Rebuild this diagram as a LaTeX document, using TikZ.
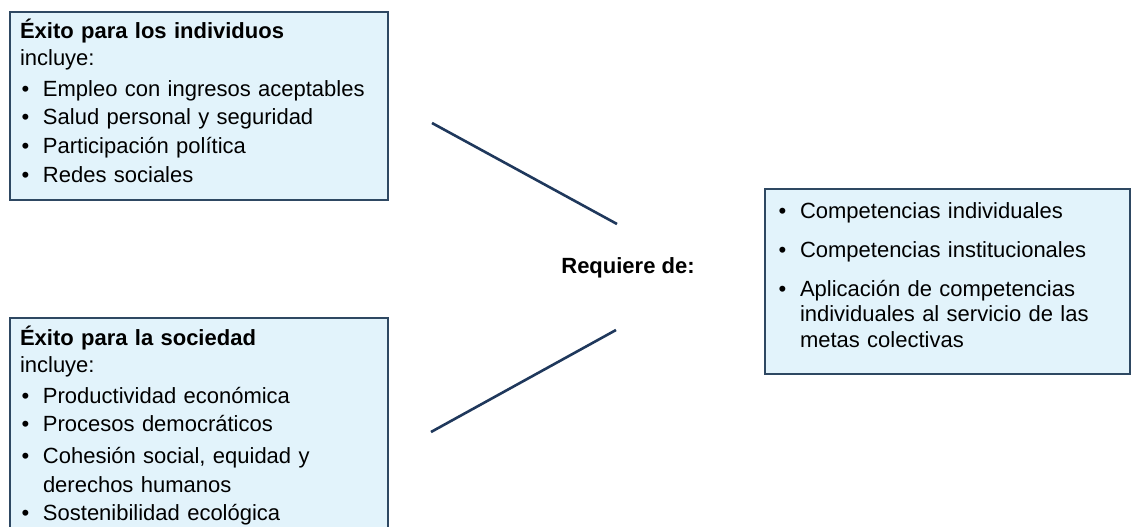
\documentclass[tikz,border=0pt]{standalone}
\usepackage{fontspec}
\setmainfont{Liberation Sans}
\usetikzlibrary{positioning}
\definecolor{cajafondo}{RGB}{226,243,251}
\definecolor{cajaborde}{RGB}{46,72,98}
\definecolor{linea}{RGB}{31,56,92}
\newcommand{\punto}[1]{\par\hangindent=23pt\hangafter=1\noindent\hbox to 23pt{\hspace{1.5pt}\textbullet\hfil}#1}
\newcommand{\arriba}[1]{\rule{0pt}{#1}}
\newcommand{\abajo}[1]{\rule[-#1]{0pt}{#1}}

\begin{document}
\begin{tikzpicture}[x=1pt,y=-1pt,
block/.style={rectangle,draw=cajaborde,line width=1.6pt,fill=cajafondo,align=left,anchor=north west,inner xsep=10pt,inner ysep=0pt,outer sep=0pt,font=\fontsize{22}{28.6}\selectfont},
line/.style={draw=linea,line width=2.6pt}]

\useasboundingbox (0,0) rectangle (1132,527);
\clip (0,0) rectangle (1132,527);

\node [block, text width=358pt] (indiv) at (10,12) {\arriba{27pt}\textbf{Éxito para los individuos}\\[-2pt]incluye:\par\vspace{2pt}
\punto{Empleo con ingresos aceptables}
\punto{Salud personal y seguridad}
\punto{Participación política}
\punto{Redes sociales\abajo{18pt}}\par};

\node [block, text width=358pt] (soc) at (10,318) {\arriba{27pt}\textbf{Éxito para la sociedad}\\[-1pt]incluye:\par\vspace{2pt}
\punto{Productividad económica}
\punto{Procesos democráticos}\par\vspace{3pt}
\punto{Cohesión social, equidad y\newline derechos humanos}
\punto{Sostenibilidad ecológica\abajo{10pt}}\par};

\node [block, text width=341pt, inner xsep=12pt, font=\fontsize{22}{25.5}\selectfont] (comp) at (765,189) {\punto{\arriba{28pt}Competencias individuales}\par\vspace{13.5pt}
\punto{Competencias institucionales}\par\vspace{13.5pt}
\punto{Aplicación de competencias\newline individuales al servicio de las\newline metas colectivas\abajo{27pt}}\par};

\node [font=\fontsize{22}{26}\selectfont\bfseries] (req) at (628,268) {Requiere de:};

\coordinate (a1) at (432,123);
\coordinate (a2) at (617,224);
\coordinate (b1) at (431,432);
\coordinate (b2) at (616,330);

\path [line] (a1) -- (a2);
\path [line] (b1) -- (b2);
\end{tikzpicture}
\end{document}
